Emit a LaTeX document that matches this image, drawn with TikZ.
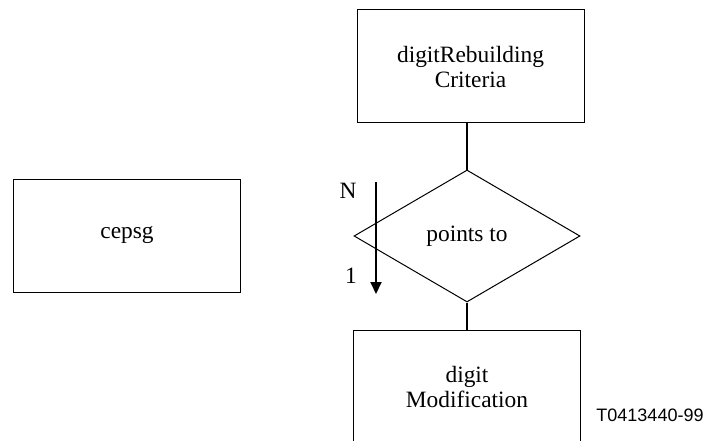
\documentclass[tikz,border=0pt]{standalone}
\usepackage{fontspec}
\setmainfont{Liberation Serif}
\newfontfamily\figlabelfont{Liberation Sans}
\usetikzlibrary{shapes.geometric,arrows.meta}
\begin{document}
\begin{tikzpicture}[x=1pt, y=-1pt, font=\fontsize{23.4}{25}\selectfont]
        \tikzstyle{entity}=[draw, line width=1pt, minimum width=227pt, minimum height=113pt, inner sep=0pt, align=center]
        \tikzstyle{relation}=[draw, diamond, line width=1pt, minimum width=226pt, minimum height=132pt, inner sep=0pt]
        \tikzstyle{link}=[line width=2pt]

        \useasboundingbox (0,0) rectangle (704,441);
        \clip (0,0) rectangle (704,441);

% entities and the relation between them

        \node[entity] (cepsg) at (127,235.5) {cepsg};
        \node[entity] (crit) at (470.5,66.5) {digitRebuilding\\Criteria};
        \node[relation] (points) at (467,236) {points to};
        \node[entity] (modif) at (467,387) {digit\\Modification};

        \draw[link] (points.north) -- (points.north |- crit.south);
        \draw[link] (points.south) -- (points.south |- modif.north);

% cardinality arrow

        \coordinate (cardtop) at (376,182);
        \coordinate (cardend) at (376,294);
        \draw[link, -{Triangle[length=12pt, width=11pt]}] (cardtop) -- (cardend);
        \node (cardN) at (348,191) {N};
        \node (card1) at (351,276) {1};

        \node[font=\figlabelfont\fontsize{18}{20}\selectfont] (figid) at (650,415) {T0413440-99};

    \end{tikzpicture}
\end{document}
